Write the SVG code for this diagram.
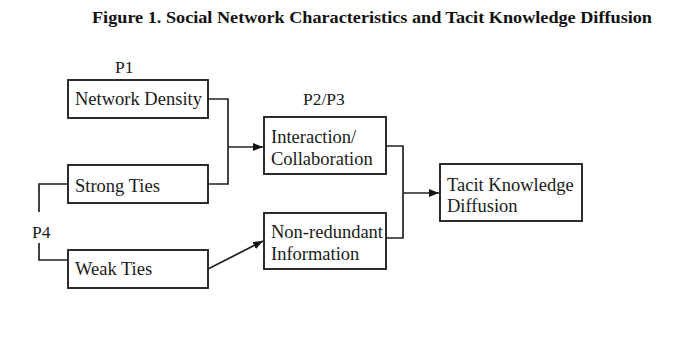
<svg xmlns="http://www.w3.org/2000/svg" width="683" height="361" viewBox="0 0 683 361">
<style>
.box{fill:#fff;stroke:#222;stroke-width:1.9}
.t{font-family:"Liberation Serif","Times New Roman",serif;font-size:18.5px;fill:#1a1a1a}
.lbl{font-family:"Liberation Serif","Times New Roman",serif;font-size:17.5px;fill:#1a1a1a}
.title{font-family:"Liberation Serif","Times New Roman",serif;font-size:16.5px;font-weight:bold;fill:#111}
.c{fill:none;stroke:#222;stroke-width:1.7}
</style>
<defs>
<marker id="ah" viewBox="0 0 10 10" refX="10" refY="5" markerWidth="10" markerHeight="10" markerUnits="userSpaceOnUse" orient="auto">
<path d="M0,1 L10,5 L0,9 Z" fill="#111"/>
</marker>
</defs>
<rect width="683" height="361" fill="#fff"/>
<text class="title" x="92" y="23" textLength="560" lengthAdjust="spacingAndGlyphs">Figure 1. Social Network Characteristics and Tacit Knowledge Diffusion</text>
<g id="labels">
<text class="lbl" x="115" y="73">P1</text>
<text class="lbl" x="303" y="105">P2/P3</text>
<text class="lbl" x="32" y="238">P4</text>
</g>
<g id="connectors">
<path class="c" d="M208,99 H228 V184 H208"/>
<path class="c" d="M228,147 H263" marker-end="url(#ah)"/>
<path class="c" d="M386,146 H403 V238 H386"/>
<path class="c" d="M403,193 H439" marker-end="url(#ah)"/>
<path class="c" d="M208,269 L263,241" marker-end="url(#ah)"/>
<path class="c" d="M68,184 H39 V212"/>
<path class="c" d="M39,243 V260 H68"/>
</g>
<g id="network-density">
<rect class="box" x="68" y="80" width="140" height="38"/>
<text class="t" x="75" y="105">Network Density</text>
</g>
<g id="strong-ties">
<rect class="box" x="68" y="165" width="140" height="38"/>
<text class="t" x="75" y="192">Strong Ties</text>
</g>
<g id="weak-ties">
<rect class="box" x="68" y="250" width="140" height="38"/>
<text class="t" x="75" y="275">Weak Ties</text>
</g>
<g id="interaction">
<rect class="box" x="264" y="117" width="122" height="57"/>
<text class="t" x="271" y="143">Interaction/</text>
<text class="t" x="271" y="165">Collaboration</text>
</g>
<g id="non-redundant">
<rect class="box" x="264" y="213" width="122" height="56"/>
<text class="t" x="271" y="238">Non-redundant</text>
<text class="t" x="271" y="260">Information</text>
</g>
<g id="tacit">
<rect class="box" x="440" y="164" width="142" height="57"/>
<text class="t" x="447" y="191">Tacit Knowledge</text>
<text class="t" x="447" y="212">Diffusion</text>
</g>
</svg>
